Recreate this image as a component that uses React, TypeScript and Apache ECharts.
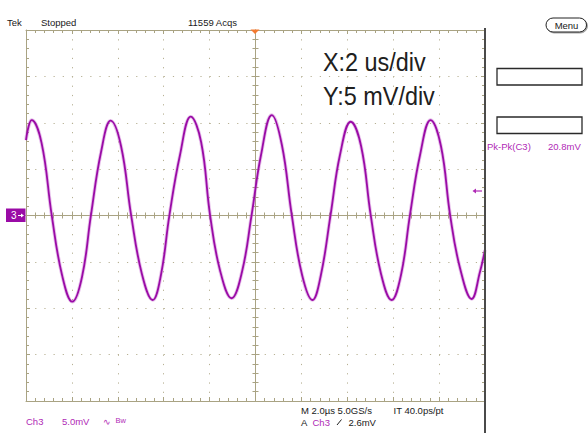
import React, { useEffect, useRef } from "react";
import * as echarts from "echarts";

// Time (µs, relative to trigger at screen centre) and Ch3 voltage (mV)
const timeUs = [
  -10.0, -9.75, -9.32, -8.88, -8.43, -7.98, -7.56, -7.17, -6.73, -6.31,
  -5.86, -5.42, -4.95, -4.48, -4.12, -3.75, -3.29, -2.82, -2.37, -1.98,
  -1.55, -1.04, -0.59, -0.17, 0.24, 0.71, 1.15, 1.58, 2.03, 2.48,
  2.85, 3.27, 3.68, 4.15, 4.6, 5.02, 5.47, 5.93, 6.34, 6.73,
  7.17, 7.63, 8.08, 8.48, 8.91, 9.42, 9.78, 10.0,
];
const ch3mV = [
  8.14, 10.29, 7.81, 0.05, -6.41, -9.29, -6.63, 0.05, 6.84, 10.22,
  7.49, 0.05, -6.3, -9.11, -6.41, 0.05, 6.52, 10.65, 7.92, 0.05,
  -5.87, -8.92, -6.09, 0.05, 6.52, 10.83, 7.6, 0.05, -6.41, -9.11,
  -6.41, 0.05, 6.52, 10.11, 7.49, 0.05, -6.3, -9.11, -6.41, 0.05,
  6.52, 10.29, 7.49, 0.05, -5.66, -9.0, -6.09, -3.72,
];

// Graticule: 10 horizontal divisions of 2 µs, 8 vertical divisions of 5 mV
const X_MIN = -10;
const X_MAX = 10;
const X_DIV = 2;
const Y_MIN = -20;
const Y_MAX = 20;
const Y_DIV = 5;

const headerTexts = ["Tek", "Stopped", "11559 Acqs"];
const measureLabel = "Pk-Pk(C3)";
const measureValue = "20.8mV";
const scaleNotes = ["X:2 us/div", "Y:5 mV/div"];

const GRID_C = "#a9a383";
const DOT_C = "#b7b194";
const TRACE = "#9a0ba6";
const MAG = "#b02ab6";
const DARK = "#202020";
const FONT = '"Liberation Sans", Arial, sans-serif';

function edgeX(position: string, split: boolean) {
  return {
    type: "value", position, min: X_MIN, max: X_MAX, interval: X_DIV,
    axisLine: { show: true, onZero: false, lineStyle: { color: GRID_C, width: 1 } },
    axisTick: { show: true, inside: true, length: 4, lineStyle: { color: GRID_C } },
    minorTick: { show: true, splitNumber: 5, length: 3, lineStyle: { color: GRID_C } },
    axisLabel: { show: false },
    splitLine: { show: split, lineStyle: { color: DOT_C, width: 1, type: [1.2, 8.075] } },
    minorSplitLine: { show: false },
  };
}
function centerX(position: string) {
  return {
    type: "value", position, min: X_MIN, max: X_MAX, interval: X_DIV,
    axisLine: { show: true, onZero: true, onZeroAxisIndex: 0, lineStyle: { color: GRID_C, width: 1 } },
    axisTick: { show: true, inside: true, length: 4, lineStyle: { color: GRID_C } },
    minorTick: { show: true, splitNumber: 5, length: 3, lineStyle: { color: GRID_C } },
    axisLabel: { show: false },
    splitLine: { show: false },
  };
}
function edgeY(position: string, split: boolean) {
  return {
    type: "value", position, min: Y_MIN, max: Y_MAX, interval: Y_DIV,
    axisLine: { show: true, onZero: false, lineStyle: { color: GRID_C, width: 1 } },
    axisTick: { show: true, inside: true, length: 4, lineStyle: { color: GRID_C } },
    minorTick: { show: true, splitNumber: 5, length: 3, lineStyle: { color: GRID_C } },
    axisLabel: { show: false },
    splitLine: { show: split, lineStyle: { color: DOT_C, width: 1, type: [1.2, 7.98] } },
    minorSplitLine: { show: false },
  };
}
function centerY(position: string) {
  return {
    type: "value", position, min: Y_MIN, max: Y_MAX, interval: Y_DIV,
    axisLine: { show: true, onZero: true, onZeroAxisIndex: 0, lineStyle: { color: GRID_C, width: 1 } },
    axisTick: { show: true, inside: true, length: 4, lineStyle: { color: GRID_C } },
    minorTick: { show: true, splitNumber: 5, length: 3, lineStyle: { color: GRID_C } },
    axisLabel: { show: false },
    splitLine: { show: false },
  };
}

function txt(text: string, x: number, y: number, fill: string, size: number, extra: any = {}) {
  return {
    type: "text", x, y, z: 20,
    style: { text, fill, font: `${size}px ${FONT}`, align: "left", verticalAlign: "middle", ...extra },
  };
}

export default function App() {
  const ref = useRef<HTMLDivElement>(null);
  useEffect(() => {
    if (!ref.current) return;
    const chart = echarts.init(ref.current, null, { renderer: "svg" });
    const pts = timeUs.map((t, i) => [t, ch3mV[i]]);
    chart.setOption({
      animation: false,
      backgroundColor: "#ffffff",
      grid: { left: 26, top: 30, width: 459, height: 371, containLabel: false, outerBoundsMode: "none" },
      xAxis: [edgeX("bottom", true), edgeX("top", false), centerX("bottom"), centerX("top")],
      yAxis: [edgeY("left", true), edgeY("right", false), centerY("left"), centerY("right")],
      series: [
        {
          type: "line", data: pts, xAxisIndex: 0, yAxisIndex: 0, symbol: "none", smooth: 0.42,
          lineStyle: { color: "rgba(195,100,205,0.4)", width: 3.6 }, silent: true, z: 5,
        },
        {
          type: "line", data: pts, xAxisIndex: 0, yAxisIndex: 0, symbol: "none", smooth: 0.42,
          lineStyle: { color: TRACE, width: 1.8 }, silent: true, z: 6,
        },
      ],
      graphic: [
        txt(headerTexts[0], 7, 22.5, DARK, 9.5),
        txt(headerTexts[1], 41, 22.5, DARK, 9.5),
        txt(headerTexts[2], 188, 22.5, DARK, 9.5),
        {
          type: "rect", z: 20, shape: { x: 546, y: 18, width: 40.5, height: 14, r: 7 },
          style: { fill: "#ffffff", stroke: "#222222", lineWidth: 1, shadowColor: "rgba(0,0,0,0.35)", shadowOffsetX: 1, shadowOffsetY: 1, shadowBlur: 1 },
        },
        txt("Menu", 566.5, 25, DARK, 9.5, { align: "center" }),
        { type: "rect", z: 20, shape: { x: 497, y: 68.5, width: 85, height: 16.5 }, style: { fill: "#ffffff", stroke: "#2a2a2a", lineWidth: 1.3 } },
        { type: "rect", z: 20, shape: { x: 497, y: 117, width: 85, height: 16.5 }, style: { fill: "#ffffff", stroke: "#2a2a2a", lineWidth: 1.3 } },
        txt(measureLabel, 487, 146.5, MAG, 9.5),
        txt(measureValue, 548, 146.5, MAG, 9.5),
        { ...txt(scaleNotes[0], 323, 62.5, DARK, 26), scaleX: 0.9 },
        { ...txt(scaleNotes[1], 323, 96, DARK, 26), scaleX: 0.9 },
        { type: "line", z: 20, shape: { x1: 485, y1: 28, x2: 485, y2: 433 }, style: { stroke: "#4a4a4a", lineWidth: 2 } },
        { type: "polygon", z: 20, shape: { points: [[250.5, 29.5], [259.5, 29.5], [255, 34]] }, style: { fill: "#f47a30" } },
        { type: "rect", z: 20, shape: { x: 6, y: 208.5, width: 19.5, height: 13.5 }, style: { fill: TRACE } },
        txt("3", 11, 215.5, "#ffffff", 10),
        { type: "line", z: 21, shape: { x1: 18, y1: 215.5, x2: 22, y2: 215.5 }, style: { stroke: "#ffffff", lineWidth: 1 } },
        { type: "polygon", z: 21, shape: { points: [[21, 213.5], [24, 215.5], [21, 217.5]] }, style: { fill: "#ffffff" } },
        { type: "line", z: 21, shape: { x1: 475, y1: 191, x2: 482, y2: 191 }, style: { stroke: MAG, lineWidth: 1.2 } },
        { type: "polygon", z: 21, shape: { points: [[476, 188.5], [472.5, 191], [476, 193.5]] }, style: { fill: MAG } },
        txt("Ch3", 26, 421.7, MAG, 9.5),
        txt("5.0mV", 62, 421.7, MAG, 9.5),
        txt("∿", 103, 421.7, MAG, 9),
        txt("Bw", 115.5, 420.5, MAG, 7.5),
        txt("M 2.0µs 5.0GS/s", 301, 410.3, DARK, 9.5),
        txt("IT 40.0ps/pt", 393.5, 410.3, DARK, 9.5),
        txt("A", 301, 422, DARK, 9.5),
        txt("Ch3", 312.5, 422, MAG, 9.5),
        { type: "line", z: 21, shape: { x1: 337, y1: 425, x2: 341.5, y2: 419.5 }, style: { stroke: DARK, lineWidth: 1 } },
        txt("2.6mV", 348.5, 422, DARK, 9.5),
      ],
    });
    return () => chart.dispose();
  }, []);
  return <div ref={ref} style={{ width: 588, height: 433, position: "absolute", left: 0, top: 0 }} />;
}
